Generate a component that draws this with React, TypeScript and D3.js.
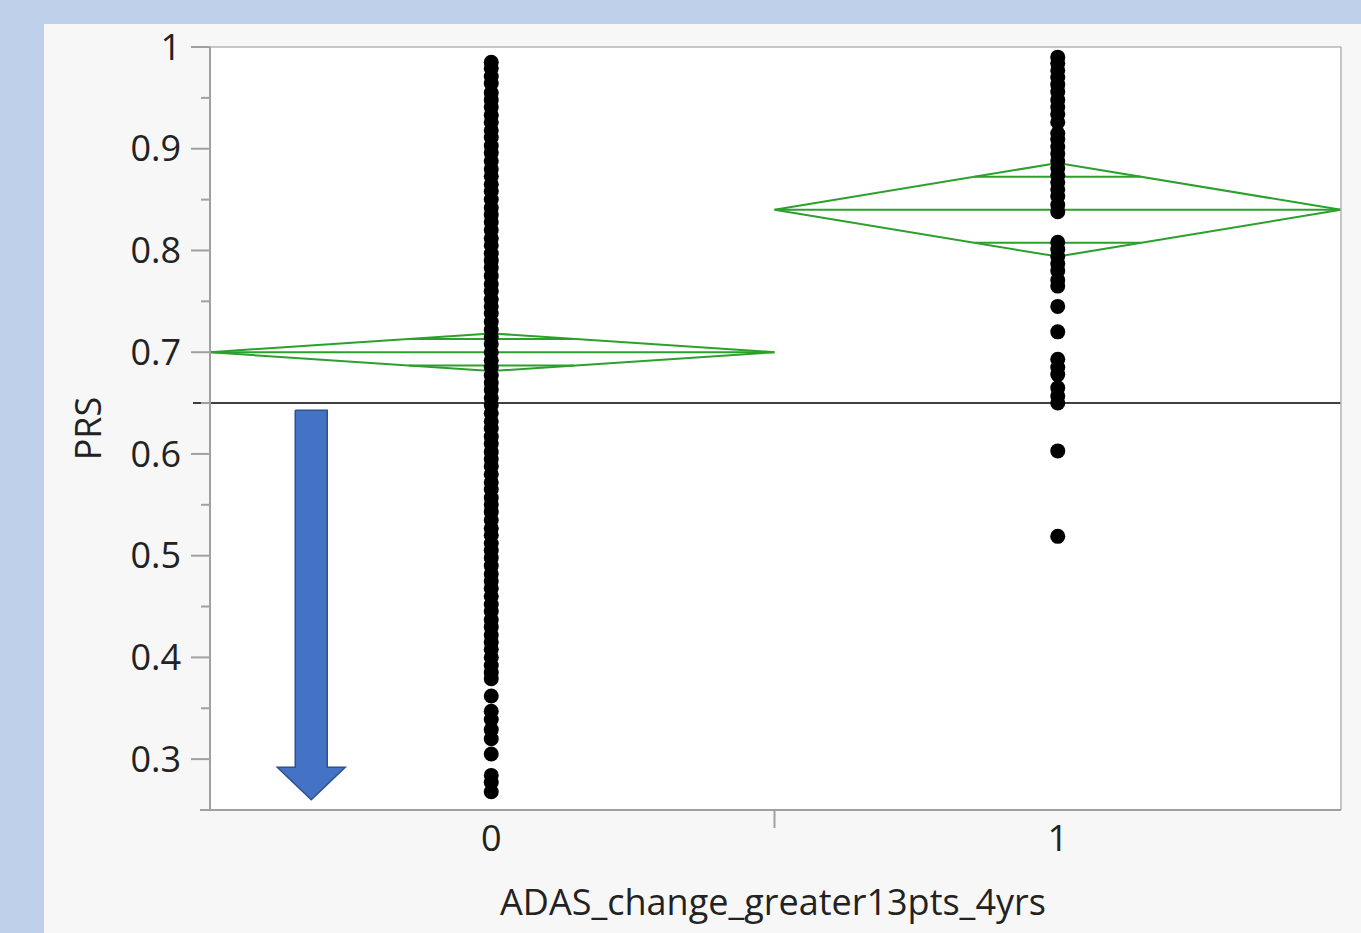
import React from "react";
import * as d3 from "d3";

// groups on the x axis
const groups = ["0", "1"];

// PRS values, group 0 (dense column) read top to bottom
const prsGroup0 = [
  0.985, 0.979, 0.971, 0.964, 0.955, 0.948, 0.941, 0.933, 0.926, 0.918,
  0.911, 0.903, 0.896, 0.888, 0.880, 0.873, 0.865, 0.858, 0.850, 0.842,
  0.835, 0.828, 0.820, 0.812, 0.805, 0.797, 0.790, 0.783, 0.775, 0.767,
  0.760, 0.752, 0.745, 0.738, 0.730, 0.722, 0.715, 0.708, 0.700, 0.692,
  0.685, 0.677, 0.670, 0.663, 0.655, 0.648, 0.640, 0.632, 0.625, 0.617,
  0.610, 0.602, 0.595, 0.588, 0.580, 0.572, 0.565, 0.557, 0.550, 0.543,
  0.535, 0.527, 0.520, 0.512, 0.505, 0.498, 0.490, 0.482, 0.475, 0.468,
  0.460, 0.452, 0.445, 0.437, 0.430, 0.422, 0.415, 0.408, 0.400, 0.392,
  0.385, 0.379, 0.362, 0.347, 0.339, 0.329, 0.320, 0.305, 0.284, 0.277,
  0.268
];

// PRS values, group 1
const prsGroup1 = [
  0.990, 0.984, 0.977, 0.970, 0.963, 0.956, 0.948, 0.941, 0.934, 0.926,
  0.915, 0.909, 0.902, 0.895, 0.888, 0.881, 0.874, 0.867, 0.860, 0.853,
  0.845, 0.838, 0.808, 0.801, 0.794, 0.787, 0.780, 0.771, 0.765, 0.745,
  0.720, 0.693, 0.685, 0.678, 0.665, 0.657, 0.650, 0.603, 0.519
];

// means diamonds: group mean and 95% CI
const groupMeans = [0.700, 0.840];
const ciLower = [0.6815, 0.794];
const ciUpper = [0.7185, 0.886];

const refLine = 0.65;
const yMajorTicks = [0.3, 0.4, 0.5, 0.6, 0.7, 0.8, 0.9, 1];
const yMinorTicks = [0.35, 0.45, 0.55, 0.65, 0.75, 0.85, 0.95];

const xTitle = "ADAS_change_greater13pts_4yrs";
const yTitle = "PRS";

export default function App() {
  const W = 1361, H = 933;
  const left = 210, right = 1341, top = 47, bottom = 810;
  const font = "'Segoe UI', 'Open Sans', 'Noto Sans', sans-serif";
  const green = "#2ca02c";

  const y = d3.scaleLinear().domain([0.25, 1]).range([bottom, top]);
  const x = d3.scaleBand().domain(groups).range([208, right]).padding(0);
  const bw = x.bandwidth();
  const fmt = d3.format("~g");

  const columns = [prsGroup0, prsGroup1];

  const diamonds = groups.map((g, i) => {
    const x0 = Math.max(x(g)!, left);
    const x1 = x(g)! + bw;
    const cx = x(g)! + bw / 2;
    const m = groupMeans[i];
    const half = (ciUpper[i] - ciLower[i]) / 2;
    const ov = half * Math.SQRT1_2;
    // overlap marks sit where the diamond edges are at mean +/- ov
    const frac = 1 - ov / half;
    const ox0 = cx - (cx - x0) * frac;
    const ox1 = cx + (x1 - cx) * frac;
    const path = d3.line()([
      [x0, y(m)], [cx, y(ciUpper[i])], [x1, y(m)], [cx, y(ciLower[i])], [x0, y(m)]
    ]);
    return (
      <g key={g} stroke={green} strokeWidth={2} fill="none">
        <path d={path!} />
        <line x1={x0} x2={x1} y1={y(m)} y2={y(m)} />
        <line x1={ox0} x2={ox1} y1={y(m + ov)} y2={y(m + ov)} />
        <line x1={ox0} x2={ox1} y1={y(m - ov)} y2={y(m - ov)} />
      </g>
    );
  });

  // annotation arrow under the reference line
  const ax = x("0")! + bw / 2 - 180;
  const aTop = y(0.643), aNeck = y(0.292), aTip = y(0.26);
  const arrow = d3.line()([
    [ax - 16, aTop], [ax + 16, aTop], [ax + 16, aNeck], [ax + 34, aNeck],
    [ax, aTip], [ax - 34, aNeck], [ax - 16, aNeck], [ax - 16, aTop]
  ]);

  return (
    <svg width={W} height={H} style={{ position: "absolute", left: 0, top: 0 }} fontFamily={font}>
      <rect x={0} y={0} width={W} height={H} fill="#bfd0ea" />
      <rect x={44} y={24} width={W - 44} height={H - 24} fill="#f7f7f7" />
      <rect x={left} y={top} width={right - left} height={bottom - top} fill="#ffffff" />

      {diamonds}

      <line x1={193} x2={right} y1={y(refLine)} y2={y(refLine)} stroke="#000" strokeWidth={1.6} />

      {columns.map((vals, i) => (
        <g key={i}>
          {vals.map((v, j) => (
            <circle key={j} cx={x(groups[i])! + bw / 2} cy={y(v)} r={7.5} fill="#000" />
          ))}
        </g>
      ))}

      <path d={arrow!} fill="#4472c4" stroke="#2f528f" strokeWidth={1.5} />

      {/* frame */}
      <line x1={right} x2={right} y1={top} y2={bottom} stroke="#b4b4b4" strokeWidth={1.5} />
      <line x1={192} x2={right} y1={top} y2={top} stroke="#b4b4b4" strokeWidth={1.5} />
      <line x1={left} x2={left} y1={top} y2={bottom + 1} stroke="#a0a0a0" strokeWidth={2} />
      <line x1={200} x2={right} y1={bottom} y2={bottom} stroke="#a0a0a0" strokeWidth={2} />

      {yMajorTicks.map(t => (
        <g key={t}>
          <line x1={191} x2={left} y1={y(t)} y2={y(t)} stroke="#a0a0a0" strokeWidth={2} />
          <text x={181} y={y(t)} dy="0.35em" textAnchor="end" fontSize={36} fill="#222">{fmt(t)}</text>
        </g>
      ))}
      {yMinorTicks.map(t => (
        <line key={t} x1={201} x2={left} y1={y(t)} y2={y(t)} stroke="#a0a0a0" strokeWidth={2} />
      ))}

      <line x1={x("1")!} x2={x("1")!} y1={bottom} y2={828} stroke="#a0a0a0" strokeWidth={2} />
      {groups.map(g => (
        <text key={g} x={x(g)! + bw / 2} y={838} dy="0.35em" textAnchor="middle" fontSize={36} fill="#222">{g}</text>
      ))}

      <text x={773} y={902} dy="0.35em" textAnchor="middle" fontSize={36} fill="#222">{xTitle}</text>
      <text transform={`translate(88,${(top + bottom) / 2}) rotate(-90)`} dy="0.35em" textAnchor="middle" fontSize={36} fill="#222">{yTitle}</text>
    </svg>
  );
}
